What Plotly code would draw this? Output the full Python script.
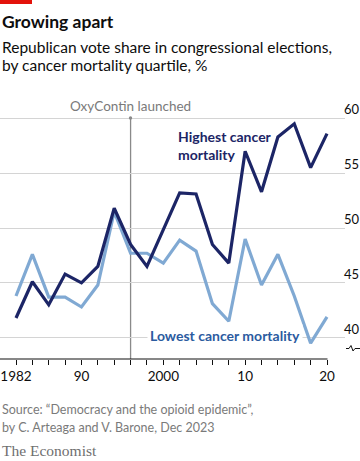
import plotly.graph_objects as go

years = list(range(1982, 2021, 2))
highest = [41.8, 45.1, 43.0, 45.8, 45.0, 46.5, 51.8, 48.5, 46.5, 49.9,
           53.2, 53.1, 48.5, 46.8, 57.0, 53.3, 58.3, 59.5, 55.5, 58.6]
lowest = [43.8, 47.6, 43.7, 43.7, 42.8, 44.8, 51.5, 47.7, 47.7, 46.8,
          48.9, 47.9, 43.1, 41.5, 49.0, 44.8, 47.6, 43.8, 39.5, 41.9]
y_ticks = [40, 45, 50, 55, 60]
x_tick_labels = {1982: "1982", 1990: "90", 2000: "2000", 2010: "10", 2020: "20"}

W, H = 360, 461
L, R, T, B = 0, 15, 100, 102
PW, PH = W - L - R, H - T - B
FONT = "Lato"

def px(x):
    return (x - L) / PW

def py(y):
    return (H - B - y) / PH

dark = "#1c2566"
light = "#80a9d3"
light_txt = "#2b5b9f"

fig = go.Figure()
fig.add_trace(go.Scatter(x=years, y=lowest, mode="lines",
                         line=dict(color=light, width=3.2), hoverinfo="skip"))
fig.add_trace(go.Scatter(x=years, y=highest, mode="lines",
                         line=dict(color=dark, width=3.2), hoverinfo="skip"))

shapes = []
# OxyContin line
shapes.append(dict(type="line", xref="x", yref="paper", x0=1996, x1=1996,
                   y0=0, y1=py(118), line=dict(color="#8a8a8a", width=1.3), layer="below"))
shapes.append(dict(type="circle", xref="paper", yref="paper",
                   x0=px(128.8), x1=px(132.2), y0=py(119.7), y1=py(116.3),
                   fillcolor="#8a8a8a", line=dict(width=0)))
# x axis line
shapes.append(dict(type="line", xref="paper", yref="paper", x0=0, y0=0,
                   x1=px(327.5), y1=0, line=dict(color="#111111", width=1.2)))
# red bar
shapes.append(dict(type="rect", xref="paper", yref="paper", x0=0, x1=px(32),
                   y0=py(4), y1=py(0), fillcolor="#e3120b", line=dict(width=0)))
# axis break squiggle
pts = [(346, 348.5), (349, 348.5), (351, 345.5), (353, 351), (355, 348.5), (360, 348.5)]
path = "M " + " L ".join(f"{px(a):.5f},{py(b):.5f}" for a, b in pts)
shapes.append(dict(type="path", xref="paper", yref="paper", path=path,
                   line=dict(color="#111111", width=1)))

ann = []
ann.append(dict(text="<b>Growing apart</b>", x=0, y=py(22), xref="paper", yref="paper",
                xanchor="left", yanchor="middle", showarrow=False,
                font=dict(family=FONT, size=17.5, color="#0d0d0d")))
ann.append(dict(text="Republican vote share in congressional elections,", x=0, y=py(47),
                xref="paper", yref="paper", xanchor="left", yanchor="middle", showarrow=False,
                font=dict(family=FONT, size=15.5, color="#0d0d0d")))
ann.append(dict(text="by cancer mortality quartile, %", x=0, y=py(65),
                xref="paper", yref="paper", xanchor="left", yanchor="middle", showarrow=False,
                font=dict(family=FONT, size=15.5, color="#0d0d0d")))
ann.append(dict(text="OxyContin launched", x=1996, y=py(106.5), xref="x", yref="paper",
                xanchor="center", yanchor="middle", showarrow=False,
                font=dict(family=FONT, size=13.5, color="#7a7a7a")))
ann.append(dict(text="<b>Highest cancer<br>mortality</b>", x=px(176), y=py(145.5),
                xref="paper", yref="paper", xanchor="left", yanchor="middle", align="left",
                showarrow=False, font=dict(family=FONT, size=14, color=dark)))
ann.append(dict(text="<b>Lowest cancer mortality</b>", x=px(147), y=py(335),
                xref="paper", yref="paper", xanchor="left", yanchor="middle",
                showarrow=False, bgcolor="white", borderpad=2,
                font=dict(family=FONT, size=14, color=light_txt)))
for v in y_ticks:
    ann.append(dict(text=str(v), x=1, y=v, xref="paper", yref="y", xanchor="left",
                    yanchor="bottom", showarrow=False, xshift=-3, yshift=-1,
                    font=dict(family=FONT, size=13, color="#0d0d0d")))
ann.append(dict(text="Source: \u201cDemocracy and the opioid epidemic\u201d,", x=0, y=py(409),
                xref="paper", yref="paper", xanchor="left", yanchor="middle", showarrow=False,
                font=dict(family=FONT, size=12.5, color="#7a7a7a")))
ann.append(dict(text="by C. Arteaga and V. Barone, Dec 2023", x=0, y=py(427.5),
                xref="paper", yref="paper", xanchor="left", yanchor="middle", showarrow=False,
                font=dict(family=FONT, size=12.5, color="#7a7a7a")))
ann.append(dict(text="The Economist", x=0, y=py(450.5),
                xref="paper", yref="paper", xanchor="left", yanchor="middle", showarrow=False,
                font=dict(family="Liberation Serif", size=15.5, color="#6f6f6f")))

fig.update_layout(
    width=W, height=H, margin=dict(l=L, r=R, t=T, b=B),
    paper_bgcolor="white", plot_bgcolor="white", showlegend=False,
    shapes=shapes, annotations=ann,
    xaxis=dict(range=[1980.045, 2022.2], tickvals=years,
               ticktext=[x_tick_labels.get(y, "") for y in years],
               ticks="outside", ticklen=5, tickwidth=1, tickcolor="#111111",
               showgrid=False, zeroline=False, showline=False,
               tickfont=dict(family=FONT, size=13.5, color="#0d0d0d")),
    yaxis=dict(range=[38.06, 61.67], tickvals=y_ticks, showticklabels=False,
               showgrid=True, gridcolor="#d4d4d4", gridwidth=1, zeroline=False,
               showline=False, ticks=""),
)
fig.write_html("out.html", config={"displayModeBar": False},
               post_script="document.body.style.margin='0px';document.body.style.overflow='hidden';")
